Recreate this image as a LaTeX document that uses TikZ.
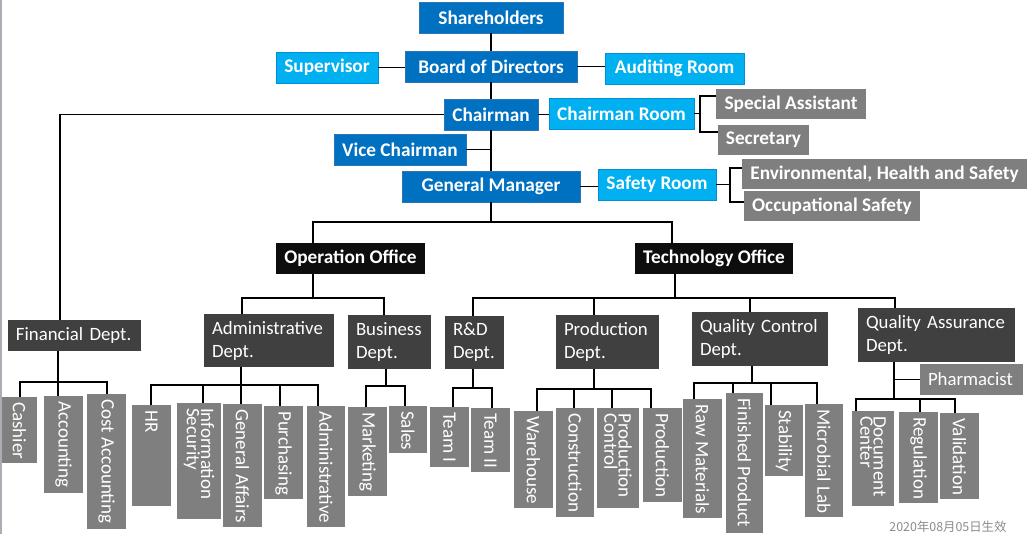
\documentclass[tikz,border=0pt]{standalone}
\usepackage{fontspec}
\setmainfont{Carlito}
\newfontfamily\cjkfont{Noto Sans CJK SC}
\definecolor{cDB}{HTML}{0070C0}
\definecolor{cDBb}{HTML}{2E75B6}
\definecolor{cLB}{HTML}{00B0F0}
\definecolor{cLBb}{HTML}{0090D8}
\definecolor{cG}{HTML}{7F7F7F}
\definecolor{cD}{HTML}{404040}
\definecolor{cK}{HTML}{0D0D0D}
\definecolor{cWM}{HTML}{8C8C8C}
\definecolor{cEdge}{HTML}{A9AEB4}
\newcommand{\bx}[7]{%
 \pgfmathsetmacro{\bxW}{#5-#3}\pgfmathsetmacro{\bxH}{#6-#4}%
 \pgfmathsetmacro{\bxX}{(#3+#5)/2}\pgfmathsetmacro{\bxY}{(#4+#6)/2}%
 \pgfmathsetmacro{\bxT}{#5-#3-16}%
 \node[#2, minimum width=\bxW pt, minimum height=\bxH pt] (#1) at (\bxX,\bxY) {#7};}
\newcommand{\vbx}[6]{%
 \bx{#1}{vbox}{#2}{#3}{#4}{#5}{}%
 \node[vtext] (#1-t) at ([yshift=-5pt]#1.north) {#6};}
\tikzset{
 box/.style={inner sep=0pt, outer sep=0pt, text=white, font=\bfseries\fontsize{19.3}{22}\selectfont},
 dblue/.style={box, fill=cDB, draw=cDBb, line width=0.8pt},
 lblue/.style={box, fill=cLB, draw=cLBb, line width=0.8pt},
 gbox/.style={box, fill=cG},
 office/.style={box, fill=cK},
 dept/.style={inner xsep=8pt, inner ysep=0pt, outer sep=0pt, fill=cD, text=white, align=left, text width=\bxT pt, font=\fontsize{18.8}{23}\selectfont},
 pharm/.style={dept, fill=cG},
 vbox/.style={inner sep=0pt, outer sep=0pt, fill=cG},
 vtext/.style={inner sep=0pt, text=white, rotate=-90, anchor=west, align=left, font=\fontsize{19}{12}\selectfont},
 conn/.style={line width=1.9pt, black},
}
\begin{document}
\begin{tikzpicture}[x=1pt, y=-1pt]
\useasboundingbox (0,0) rectangle (1028,534);
\fill[white] (0,0) rectangle (1028,534);
\fill[cEdge] (0,0) rectangle (1.8,534);
% top
\bx{sh}{dblue}{419}{2}{563}{33}{Shareholders}
\bx{bod}{dblue}{405}{51}{577}{82}{Board of Directors}
\bx{sup}{lblue}{276}{52}{378}{83}{Supervisor}
\bx{aud}{lblue}{605}{53}{744}{84}{Auditing Room}
\bx{ch}{dblue}{444}{99}{538}{130}{Chairman}
\bx{chr}{lblue}{549}{98}{694}{129}{Chairman Room}
\bx{sa}{gbox}{716}{89}{866}{119}{Special Assistant}
\bx{sec}{gbox}{718}{125}{809}{155}{Secretary}
\bx{vc}{dblue}{334}{134}{466}{165}{Vice Chairman}
\bx{gm}{dblue}{402}{171}{580}{202}{General Manager}
\bx{sr}{lblue}{598}{169}{716}{200}{Safety Room}
\bx{env}{gbox}{742}{159}{1027}{189}{Environmental, Health and Safety}
\bx{occ}{gbox}{744}{191}{920}{221}{Occupational Safety}
% offices
\bx{oo}{office}{276}{243}{425}{274}{Operation Office}
\bx{to}{office}{635}{243}{793}{274}{Technology Office}
% departments
\bx{fin}{dept}{8}{320}{141}{351}{Financial Dept.}
\bx{adm}{dept}{204}{314}{334}{367}{Administrative\\Dept.}
\bx{bus}{dept}{348}{315}{431}{369}{Business\\Dept.}
\bx{rd}{dept}{445}{316}{504}{369}{R\&D\\Dept.}
\bx{pd}{dept}{556}{315}{659}{369}{Production\\Dept.}
\bx{qc}{dept}{692}{312}{828}{366}{Quality Control\\Dept.}
\bx{qa}{dept}{858}{308}{1015}{362}{Quality Assurance\\Dept.}
\bx{ph}{pharm}{920}{364}{1023}{395}{Pharmacist}
% vertical boxes
\vbx{cash}{2}{397}{37}{463}{Cashier}
\vbx{acc}{44}{396}{83}{493}{Accounting}
\vbx{cost}{87}{394}{126}{529}{Cost Accounting}
\vbx{hr}{132}{405}{171}{506}{HR}
\vbx{infs}{177}{403}{221}{519}{Information\\Security}
\vbx{ga}{223}{404}{262}{527}{General Affairs}
\vbx{pur}{264}{406}{303}{499}{Purchasing}
\vbx{admv}{307}{406}{345}{527}{Administrative}
\vbx{mkt}{348}{407}{387}{496}{Marketing}
\vbx{sales}{389}{406}{427}{453}{Sales}
\vbx{t1}{430}{407}{469}{467}{Team I}
\vbx{t2}{471}{408}{510}{472}{Team II}
\vbx{wh}{514}{411}{553}{508}{Warehouse}
\vbx{con}{556}{408}{594}{517}{Construction}
\vbx{pc}{597}{408}{639}{508}{Production\\Control}
\vbx{prod}{643}{408}{682}{502}{Production}
\vbx{raw}{683}{399}{722}{518}{Raw Materials}
\vbx{fp}{726}{393}{763}{533}{Finished Product}
\vbx{stab}{765}{405}{803}{476}{Stability}
\vbx{mic}{805}{404}{843}{517}{Microbial Lab}
\vbx{dc}{852}{411}{894}{506}{Document\\Center}
\vbx{reg}{899}{412}{938}{503}{Regulation}
\vbx{val}{940}{413}{979}{499}{Validation}
% watermark
\node[inner sep=0pt, text=cWM, font=\cjkfont\fontsize{12.4}{13}\selectfont] (wm) at (948,527) {2020年08月05日生效};
% connectors top
\draw[conn] (sh.south) -- (bod.north);
\draw[conn] (bod.south) -- (ch.north);
\draw[conn] (ch.south) -- (gm.north);
\draw[conn] (sup.east) -- (sup.east -| bod.west);
\draw[conn] (bod.east) -- (bod.east -| aud.west);
\draw[conn] (ch.east) -- (ch.east -| chr.west);
\draw[conn] (vc.east) -- (vc.east -| gm.north);
\draw[conn] (gm.east) -- (gm.east -| sr.west);
\coordinate (chrB) at (700,114);
\draw[conn] (chr.east) -- (chr.east -| chrB);
\draw[conn] (sa.west |- 0,96) -| (chrB) |- (sec.west |- 0,132);
\coordinate (srB) at (730,185);
\draw[conn] (sr.east) -- (sr.east -| srB);
\draw[conn] (env.west |- 0,168) -| (srB) |- (occ.west |- 0,202);
\draw[conn] (ch.west) -| (fin.north -| 60,0);
% GM to offices
\coordinate (gmbar) at (491,222);
\draw[conn] (gm.south) -- (gm.south |- gmbar);
\draw[conn] (oo.north -| 313,0) |- (gmbar) -| (to.north -| 672,0);
% operation office
\coordinate (oobar) at (313,298);
\draw[conn] (oo.south -| oobar) -- (oobar);
\draw[conn] (adm.north -| 242,0) |- (oobar) -| (bus.north -| 384,0);
% technology office
\coordinate (tobar) at (675,298);
\draw[conn] (to.south -| tobar) -- (tobar);
\draw[conn] (rd.north -| 473,0) |- (tobar) -| (qa.north -| 895,0);
\draw[conn] (pd.north -| 594,0) -- (594,298);
\draw[conn] (qc.north -| 750,0) -- (750,298);
% financial
\coordinate (finbar) at (58,382);
\draw[conn] (fin.south -| finbar) -- (finbar);
\draw[conn] (cash.north -| 20,0) |- (finbar) -| (cost.north -| 107,0);
\draw[conn] (acc.north -| finbar) -- (finbar);
% administrative
\coordinate (admbar) at (241,385);
\draw[conn] (adm.south -| admbar) -- (admbar);
\draw[conn] (hr.north -| 151,0) |- (admbar) -| (admv.north -| 318,0);
\draw[conn] (infs.north -| 203,0) -- (203,385);
\draw[conn] (ga.north -| admbar) -- (admbar);
\draw[conn] (pur.north -| 280,0) -- (280,385);
% business
\coordinate (busbar) at (386,386);
\draw[conn] (bus.south -| busbar) -- (busbar);
\draw[conn] (mkt.north -| 366,0) |- (busbar) -| (sales.north -| 405,0);
% R&D
\coordinate (rdbar) at (473,388);
\draw[conn] (rd.south -| rdbar) -- (rdbar);
\draw[conn] (t1.north -| 453,0) |- (rdbar) -| (t2.north -| 492,0);
% production
\coordinate (pdbar) at (594,389);
\draw[conn] (pd.south -| pdbar) -- (pdbar);
\draw[conn] (wh.north -| 537,0) |- (pdbar) -| (prod.north -| 651,0);
\draw[conn] (con.north -| 574,0) -- (574,389);
\draw[conn] (pc.north -| 612,0) -- (612,389);
% quality control
\coordinate (qcbar) at (752,383);
\draw[conn] (qc.south -| qcbar) -- (qcbar);
\draw[conn] (raw.north -| 694,0) |- (qcbar) -| (mic.north -| 817,0);
\draw[conn] (fp.north -| 733,0) -- (733,383);
\draw[conn] (stab.north -| 771,0) -- (771,383);
% quality assurance
\coordinate (qabar) at (894,399);
\draw[conn] (qa.south -| qabar) -- (qabar);
\draw[conn] (ph.west) -- (ph.west -| qabar);
\draw[conn] (dc.north -| 856,0) |- (qabar) -| (val.north -| 955,0);
\draw[conn] (reg.north -| 920,0) -- (920,399);
\end{tikzpicture}
\end{document}
